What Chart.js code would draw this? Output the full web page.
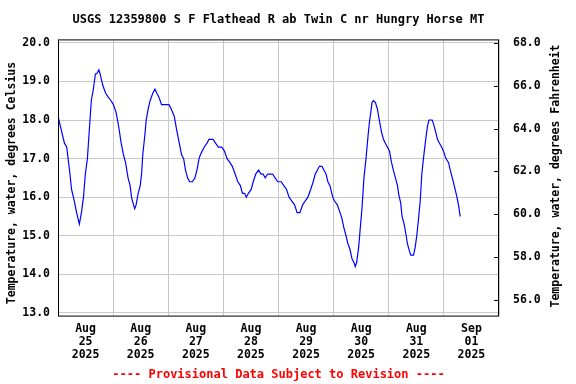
<!DOCTYPE html>
<html>
<head>
<meta charset="utf-8">
<script src="https://cdn.jsdelivr.net/npm/chart.js@4"></script>
<style>
  html, body { margin: 0; padding: 0; background: #fff; }
  #wrap { width: 576px; height: 384px; }
</style>
</head>
<body>
<div id="wrap"><canvas id="tempChart" width="576" height="384"></canvas></div>
<script>
// hours since Aug 25 2025 00:00
const hours = [0, 2.8, 3.8, 4.4, 5.2, 5.9, 7.1, 8.1, 9.3, 10.2, 11.1, 11.9, 12.8, 13.7, 14.5, 15.4, 16.3, 16.9, 17.8, 18.3,
  19.5, 20.7, 21.8, 23.1, 24.1, 25.3, 26.5, 27.5, 28.5, 29.4, 30.5, 31.4, 32.0, 32.9, 33.4, 34.0, 34.9, 35.8, 36.4, 36.9,
  37.8, 38.4, 39.3, 40.1, 41.3, 42.2, 43.0, 43.9, 45.1, 46.8, 48.3, 49.2, 50.6, 51.8, 52.8, 53.8, 54.7, 55.5, 56.4, 57.3,
  58.5, 59.6, 60.5, 61.4, 62.0, 62.8, 63.7, 64.9, 65.7, 67.5, 68.6, 69.8, 71.3, 72.4, 73.6, 74.8, 75.9, 77.1, 78.3, 79.4,
  80.3, 81.2, 82.0, 82.9, 84.1, 85.0, 86.1, 87.3, 88.4, 89.3, 90.2, 91.3, 93.4, 94.5, 95.7, 97.2, 98.3, 99.5, 100.6, 101.8,
  103.0, 104.1, 105.3, 106.5, 107.6, 108.8, 110.0, 111.1, 112.0, 112.9, 113.8, 114.9, 115.8, 116.7, 117.5, 118.4, 119.6, 120.4, 121.6, 122.8,
  123.6, 124.5, 125.4, 126.2, 127.1, 128.0, 128.9, 129.4, 130.0, 130.9, 131.6, 132.4, 133.2, 134.1, 135.0, 135.6, 136.2, 136.7, 137.3, 138.2,
  139.0, 139.9, 140.8, 141.7, 142.5, 143.4, 144.3, 145.2, 146.0, 146.9, 147.8, 148.4, 149.2, 149.8, 150.7, 151.6, 152.1, 153.0, 153.6, 154.8,
  155.5, 156.2, 156.9, 157.7, 158.4, 159.1, 159.9, 160.3, 160.9, 161.5, 162.9, 163.5, 164.4, 165.2, 166.1, 167.0, 167.8, 168.9, 170.0, 171.0,
  171.9, 172.9, 173.7, 174.5, 175.1];
const tempC = [18.1, 17.4, 17.3, 17.0, 16.6, 16.2, 15.9, 15.6, 15.3, 15.6, 16.0, 16.6, 17.0, 17.8, 18.5, 18.8, 19.2, 19.2, 19.3, 19.2,
  18.9, 18.7, 18.6, 18.5, 18.4, 18.2, 17.8, 17.4, 17.1, 16.9, 16.5, 16.3, 16.0, 15.8, 15.7, 15.8, 16.1, 16.3, 16.6, 17.1,
  17.6, 18.0, 18.3, 18.5, 18.7, 18.8, 18.7, 18.6, 18.4, 18.4, 18.4, 18.3, 18.1, 17.7, 17.4, 17.1, 17.0, 16.7, 16.5, 16.4,
  16.4, 16.5, 16.7, 17.0, 17.1, 17.2, 17.3, 17.4, 17.5, 17.5, 17.4, 17.3, 17.3, 17.2, 17.0, 16.9, 16.8, 16.6, 16.4, 16.3,
  16.1, 16.1, 16.0, 16.1, 16.2, 16.4, 16.6, 16.7, 16.6, 16.6, 16.5, 16.6, 16.6, 16.5, 16.4, 16.4, 16.3, 16.2, 16.0, 15.9,
  15.8, 15.6, 15.6, 15.8, 15.9, 16.0, 16.2, 16.4, 16.6, 16.7, 16.8, 16.8, 16.7, 16.6, 16.4, 16.3, 16.0, 15.9, 15.8, 15.6,
  15.45, 15.2, 15.0, 14.8, 14.65, 14.4, 14.3, 14.2, 14.3, 14.7, 15.2, 15.75, 16.5, 17.0, 17.6, 17.95, 18.2, 18.45, 18.5, 18.45,
  18.3, 18.0, 17.7, 17.5, 17.4, 17.3, 17.2, 16.9, 16.7, 16.5, 16.3, 16.05, 15.85, 15.5, 15.3, 15.0, 14.8, 14.6, 14.5, 14.5,
  14.7, 15.0, 15.4, 15.9, 16.6, 17.0, 17.4, 17.6, 17.85, 18.0, 18.0, 17.9, 17.7, 17.5, 17.4, 17.3, 17.2, 17.0, 16.9, 16.65,
  16.45, 16.2, 16.0, 15.75, 15.5];

const dayLabels = [['Aug', '25', '2025'], ['Aug', '26', '2025'], ['Aug', '27', '2025'], ['Aug', '28', '2025'],
  ['Aug', '29', '2025'], ['Aug', '30', '2025'], ['Aug', '31', '2025'], ['Sep', '01', '2025']];
const celsiusTicks = [13, 14, 15, 16, 17, 18, 19, 20];
const fahrenheitTicks = [56, 58, 60, 62, 64, 66, 68];

const cMin = 12.93, cMax = 20.09;
const toF = c => c * 1.8 + 32;
const mono = 'DejaVu Sans Mono';

function axisTitle(ctx, text, x, y) {
  ctx.save();
  ctx.translate(x, y);
  ctx.rotate(-Math.PI / 2);
  ctx.font = 'bold 11.5px "' + mono + '"';
  ctx.fillStyle = '#000';
  ctx.textAlign = 'center';
  ctx.textBaseline = 'middle';
  ctx.fillText(text, 0, 0);
  ctx.restore();
}

// frame, inner ticks of the F axis and both axis titles (bottom-to-top)
const framePlugin = {
  id: 'frame',
  afterDraw(chart) {
    const { ctx, chartArea: a } = chart;
    const y2 = chart.scales.y2;
    ctx.save();
    ctx.strokeStyle = '#000';
    ctx.lineWidth = 1;
    ctx.strokeRect(a.left + 0.5, a.top + 0.5, a.right - a.left - 1, a.bottom - a.top);
    ctx.beginPath();
    fahrenheitTicks.forEach(f => {
      const y = Math.round(y2.getPixelForValue(f)) + 0.5;
      ctx.moveTo(a.right - 5, y);
      ctx.lineTo(a.right, y);
    });
    ctx.stroke();
    ctx.restore();
    axisTitle(ctx, 'Temperature, water, degrees Celsius', 12, 183);
    axisTitle(ctx, 'Temperature, water, degrees Fahrenheit', 556, 176);
  }
};

const ctx = document.getElementById('tempChart').getContext('2d');
new Chart(ctx, {
  type: 'line',
  data: {
    datasets: [{
      data: hours.map((h, i) => ({ x: h, y: tempC[i] })),
      borderColor: '#0000ff',
      borderWidth: 1.2,
      pointRadius: 0,
      tension: 0,
      fill: false
    }]
  },
  options: {
    responsive: false,
    animation: false,
    layout: { padding: 0 },
    plugins: {
      legend: { display: false },
      tooltip: { enabled: false },
      title: {
        display: true,
        text: 'USGS 12359800 S F Flathead R ab Twin C nr Hungry Horse MT',
        fullSize: false,
        color: '#000',
        font: { family: mono, size: 12, weight: 'bold' },
        padding: { top: 13, bottom: 12 }
      },
      subtitle: {
        display: true,
        position: 'bottom',
        text: '---- Provisional Data Subject to Revision ----',
        fullSize: false,
        color: '#ff0000',
        font: { family: mono, size: 12, weight: 'bold' },
        padding: { top: 0, bottom: 2 }
      }
    },
    scales: {
      x: {
        type: 'linear',
        min: 0,
        max: 192,
        border: { display: false },
        afterFit: s => { s.height = 52; },
        afterBuildTicks: s => {
          s.ticks = [];
          for (let v = 0; v <= 192; v += 12) s.ticks.push({ value: v });
        },
        grid: {
          drawTicks: false,
          color: c => (c.tick && c.tick.value % 24 === 0) ? '#c8c8c8' : 'rgba(0,0,0,0)'
        },
        ticks: {
          autoSkip: false,
          maxRotation: 0,
          padding: 7,
          color: '#000',
          font: { family: mono, size: 11.5, weight: 'bold', lineHeight: 1.12 },
          callback: v => (v % 24 === 12) ? dayLabels[(v - 12) / 24] : ''
        }
      },
      y: {
        position: 'left',
        min: cMin,
        max: cMax,
        border: { display: false },
        afterFit: s => { s.width = 58; },
        afterBuildTicks: s => { s.ticks = celsiusTicks.map(v => ({ value: v })); },
        grid: { drawTicks: false, color: '#c8c8c8' },
        ticks: {
          padding: 8,
          color: '#000',
          font: { family: mono, size: 11.5, weight: 'bold' },
          callback: v => v.toFixed(1)
        }
      },
      y2: {
        position: 'right',
        min: toF(cMin),
        max: toF(cMax),
        border: { display: false },
        afterFit: s => { s.width = 77; },
        afterBuildTicks: s => { s.ticks = fahrenheitTicks.map(v => ({ value: v })); },
        grid: { drawOnChartArea: false, drawTicks: false },
        ticks: {
          padding: 14,
          color: '#000',
          font: { family: mono, size: 11.5, weight: 'bold' },
          callback: v => v.toFixed(1)
        }
      }
    }
  },
  plugins: [framePlugin]
});
</script>
</body>
</html>
